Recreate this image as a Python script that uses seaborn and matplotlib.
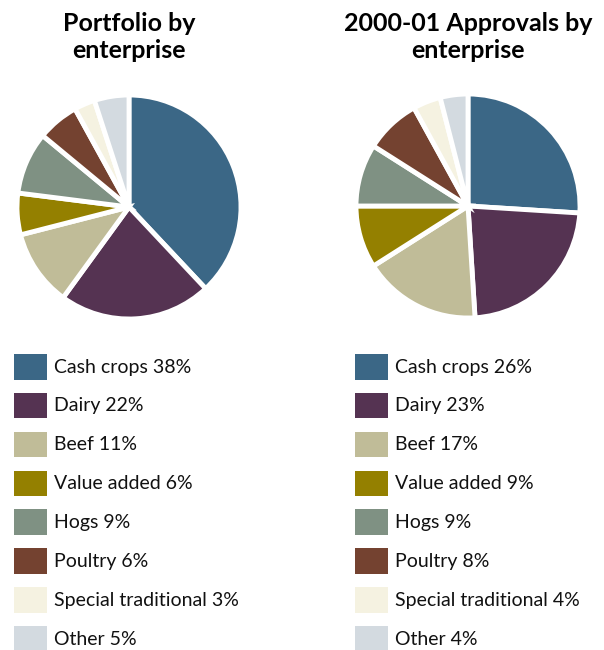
import matplotlib
matplotlib.use("Agg")
import matplotlib.pyplot as plt
from matplotlib.patches import Rectangle
import seaborn as sns

categories = ["Cash crops", "Dairy", "Beef", "Value added", "Hogs",
              "Poultry", "Special traditional", "Other"]
portfolio = [38, 22, 11, 6, 9, 6, 3, 5]
approvals = [26, 23, 17, 9, 9, 8, 4, 4]
titles = ["Portfolio by\nenterprise", "2000-01 Approvals by\nenterprise"]
colors = ["#3b6786", "#553352", "#c0bc98", "#948000", "#7f9183",
          "#744230", "#f5f2e1", "#d3dae0"]

sns.set_theme(style="white")
plt.rcParams["font.family"] = ["Lato", "DejaVu Sans"]
palette = sns.color_palette(colors)

W, H = 604, 650
fig = plt.figure(figsize=(W / 100, H / 100), dpi=100)


def fx(px):
    return px / W


def fy(py):
    return 1 - py / H


series = [portfolio, approvals]
centers = [(129, 207), (468, 206)]
radius = 112
legend_x = [14, 355]

for values, title, (cx, cy), lx in zip(series, titles, centers, legend_x):
    ax = fig.add_axes([fx(cx - radius), fy(cy + radius),
                       fx(2 * radius), 2 * radius / H])
    ax.pie(values, colors=palette, startangle=90, counterclock=False,
           wedgeprops=dict(edgecolor="white", linewidth=3.5))
    ax.set_aspect("equal")
    ax.set_xlim(-1.0, 1.0)
    ax.set_ylim(-1.0, 1.0)
    ax.axis("off")

    fig.text(fx(cx), fy(37), title, ha="center", va="center",
             fontsize=18, fontweight="bold", linespacing=1.22, color="black")

    # legend block below each pie
    lax = fig.add_axes([fx(lx), fy(650), fx(260), 310 / H])
    lax.set_xlim(0, 260)
    lax.set_ylim(310, 0)
    lax.axis("off")
    for i, (name, val) in enumerate(zip(categories, values)):
        top = 14 + i * 38.86
        lax.add_patch(Rectangle((0, top), 33, 25.5, facecolor=palette[i],
                                edgecolor="none"))
        lax.text(40, top + 13, f"{name} {val}%", va="center", ha="left",
                 fontsize=14, color="#111111")

fig.savefig("out.png", dpi=100)
